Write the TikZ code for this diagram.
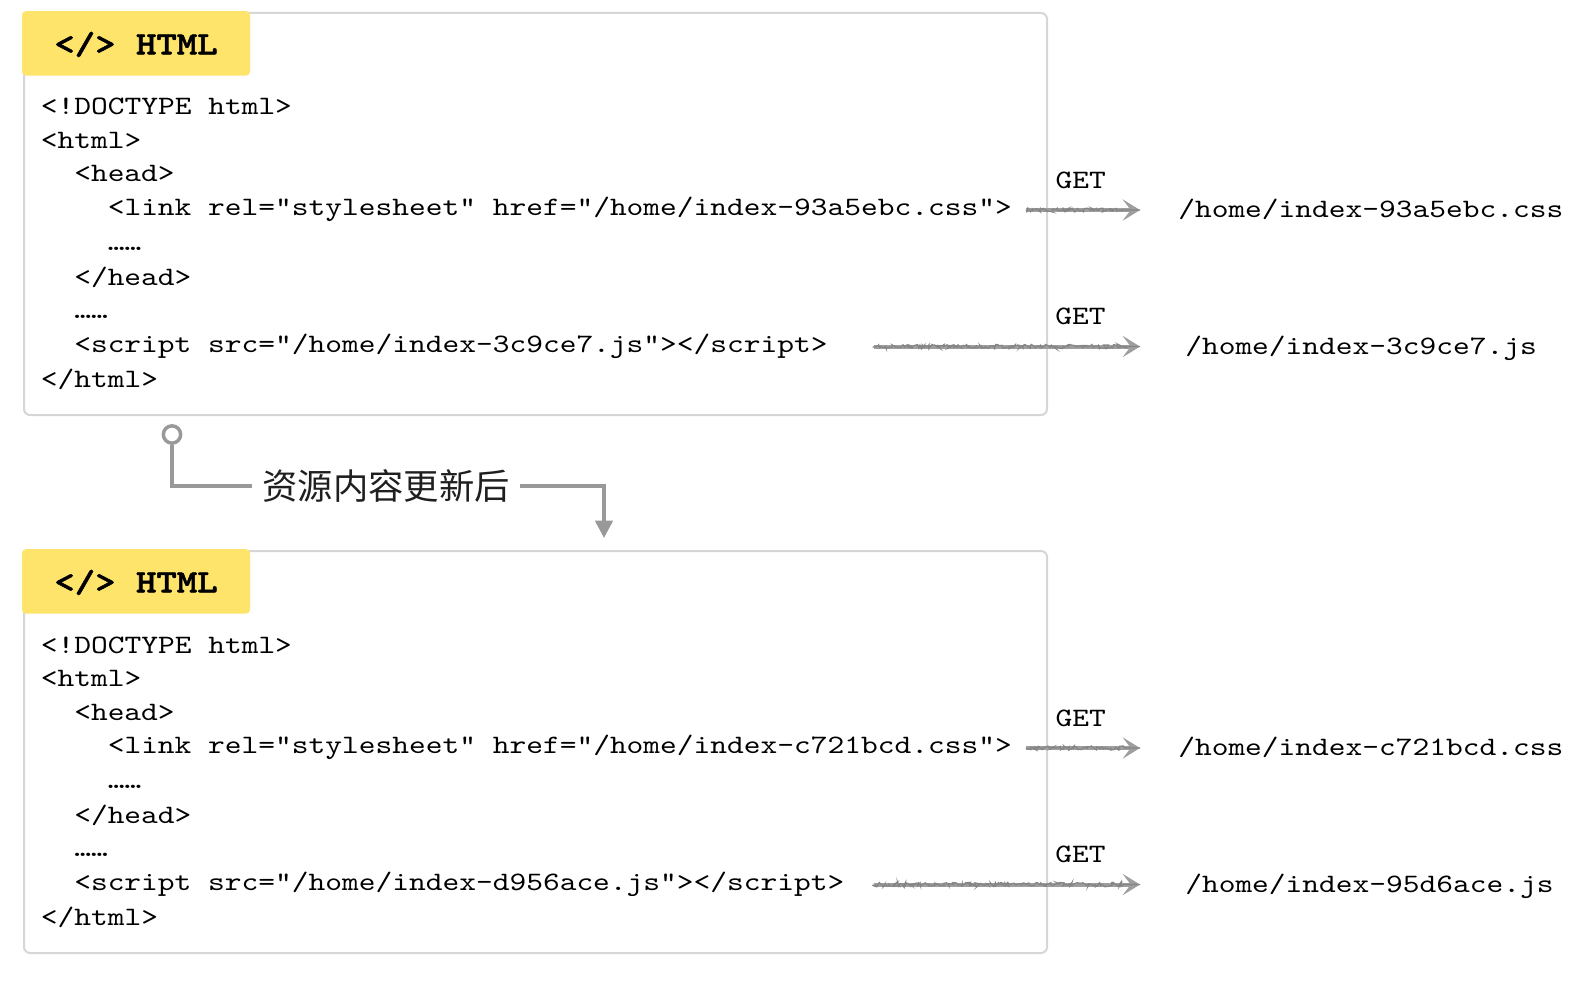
\documentclass[tikz,border=0pt]{standalone}
\usepackage{fontspec}
\usetikzlibrary{arrows.meta}
\usetikzlibrary{decorations.pathmorphing}
\newfontfamily\codefont{lmmono10-regular.otf}[FakeStretch=1.2]
\newfontfamily\codeboldfont{lmmonolt10-bold.otf}[FakeStretch=1.2,FakeBold=1.6]
\newfontfamily\cjkfont{Noto Sans CJK SC}
\definecolor{tagyellow}{HTML}{FFE46B}
\definecolor{framegray}{HTML}{D6D6D6}
\definecolor{reqgray}{HTML}{9E9E9E}
\definecolor{reqdark}{HTML}{858585}
\definecolor{flowgray}{HTML}{999999}
\tikzstyle{frame}=[draw=framegray,line width=1.5pt,rounded corners=4.5pt]
\tikzstyle{tag}=[fill=tagyellow,rounded corners=3pt,inner sep=0pt,minimum width=171pt,
                minimum height=48.4pt,text height=17.4pt,text depth=1pt,
                font=\codeboldfont\fontsize{24.3pt}{28pt}\selectfont]
\tikzstyle{code}=[anchor=base west,inner sep=0pt,text height=12pt,text depth=3.8pt,
                font=\codefont\fontsize{19.93pt}{24pt}\selectfont]
\tikzstyle{get}=[code,anchor=base,yshift=16.5pt]
\tikzstyle{req}=[draw=reqgray,line width=3pt,
                -{Stealth[length=13pt,width=16pt,inset=6pt,fill=reqgray]},
                postaction={draw=reqdark,-,line width=0.9pt,decorate,
                decoration={random steps,segment length=1pt,amplitude=1.6pt,post length=12pt}}]
\tikzstyle{flow}=[draw=flowgray,line width=2.6pt]
\tikzstyle{note}=[inner sep=7.5pt,text=black!88,font=\cjkfont\fontsize{26.5pt}{30pt}\selectfont]

\begin{document}
\begin{tikzpicture}[x=0.75pt,y=-0.75pt]
\useasboundingbox (0,0) rectangle (1592,984);
% before
\draw[frame] (24,13) rectangle (1047,415);
\node[tag] (tag1) at (136,43.4) {</> HTML};
\node[code] (doc1) at (40.6,115) {<!DOCTYPE html>};
\node[code] (html1) at (40.6,148.5) {<html>};
\node[code] (head1) at (74,182) {<head>};
\node[code] (link1) at (107.5,215.5) {<link rel="stylesheet" href="/home/index-93a5ebc.css">};
\node[code] (more1) at (107.5,250.5) {……};
\node[code] (endhead1) at (74,285.5) {</head>};
\node[code] (dots1) at (74,318.5) {……};
\node[code] (script1) at (74,352) {<script src="/home/index-3c9ce7.js"></script>};
\node[code] (endhtml1) at (40.6,387) {</html>};
\node[code] (css1) at (1178,217.5) {/home/index-93a5ebc.css};
\node[code] (js1) at (1185,354) {/home/index-3c9ce7.js};
\draw[req] ([xshift=10.5pt]link1.east) -- ([xshift=-28.5pt]link1.east -| css1.west)
  node[get,pos=0.48] {GET};
\draw[req] ([xshift=34.3pt]script1.east) -- ([xshift=-33.75pt]script1.east -| js1.west)
  node[get,pos=0.777] {GET};

% update
\node[circle,flow,fill=white,minimum size=13pt,inner sep=0pt] (upd src) at (172,434.5) {};
\node[note] (upd) at (386,486) {资源内容更新后};
\coordinate (upd dst) at (604,538);
\draw[flow] (upd src) |- (upd.west);
\draw[flow,-{Triangle[length=13pt,width=13pt]}] (upd.east) -| (upd dst);

% after
\begin{scope}[shift={(0,538)}]
\draw[frame] (24,13) rectangle (1047,415);
\node[tag] (tag2) at (136,43.4) {</> HTML};
\node[code] (doc2) at (40.6,115) {<!DOCTYPE html>};
\node[code] (html2) at (40.6,148.5) {<html>};
\node[code] (head2) at (74,182) {<head>};
\node[code] (link2) at (107.5,215.5) {<link rel="stylesheet" href="/home/index-c721bcd.css">};
\node[code] (more2) at (107.5,250.5) {……};
\node[code] (endhead2) at (74,285.5) {</head>};
\node[code] (dots2) at (74,318.5) {……};
\node[code] (script2) at (74,352) {<script src="/home/index-d956ace.js"></script>};
\node[code] (endhtml2) at (40.6,387) {</html>};
\node[code] (css2) at (1178,217.5) {/home/index-c721bcd.css};
\node[code] (js2) at (1185,354) {/home/index-95d6ace.js};
\draw[req] ([xshift=10.5pt]link2.east) -- ([xshift=-28.5pt]link2.east -| css2.west)
  node[get,pos=0.48] {GET};
\draw[req] ([xshift=21.75pt]script2.east) -- ([xshift=-33.75pt]script2.east -| js2.west)
  node[get,pos=0.777] {GET};
\end{scope}
\end{tikzpicture}
\end{document}
